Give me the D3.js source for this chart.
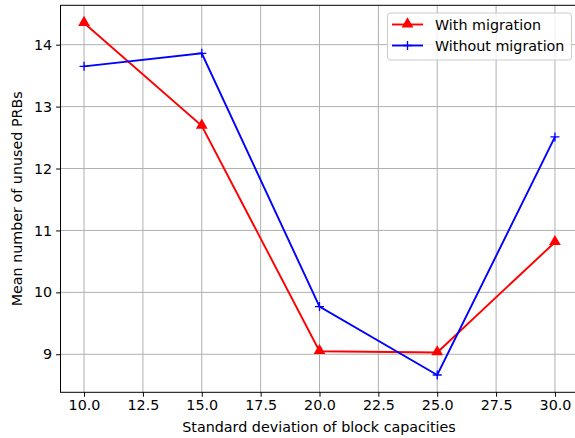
<!DOCTYPE html>
<html><head><meta charset="utf-8">
<script src="https://cdn.jsdelivr.net/npm/d3@7"></script>
<style>body{margin:0;background:#fff}svg{display:block}text{font-family:"DejaVu Sans",sans-serif}</style>
</head><body><svg id="c" width="575" height="438"></svg>
<script>
const xValues = [10, 15, 20, 25, 30];
const withMigration = [14.35, 12.69, 9.05, 9.03, 10.81];
const withoutMigration = [13.65, 13.86, 9.77, 8.665, 12.51];
const xTicks = [10, 12.5, 15, 17.5, 20, 22.5, 25, 27.5, 30];
const yTicks = [9, 10, 11, 12, 13, 14];
const seriesNames = ["With migration", "Without migration"];

const svg = d3.select("#c");
const L = 60.5, R = 578.5, T = 5.3, B = 392.3;
const x = d3.scaleLinear().domain([9, 31]).range([L, R]);
const y = d3.scaleLinear().domain([8.386, 14.636]).range([B, T]);
const fs = 14.3;

// grid
const g = svg.append("g");
g.selectAll(".gx").data(xTicks).enter().append("line")
  .attr("x1", d => x(d)).attr("x2", d => x(d)).attr("y1", T).attr("y2", B)
  .attr("stroke", "#b0b0b0").attr("stroke-width", 1);
g.selectAll(".gy").data(yTicks).enter().append("line")
  .attr("y1", d => y(d)).attr("y2", d => y(d)).attr("x1", L).attr("x2", R)
  .attr("stroke", "#b0b0b0").attr("stroke-width", 1);

// axes
const xAxis = svg.append("g").attr("transform", `translate(0,${B})`)
  .call(d3.axisBottom(x).tickValues(xTicks).tickFormat(d3.format(".1f")).tickSizeOuter(0).tickSize(4.4).tickPadding(3.5));
const yAxis = svg.append("g").attr("transform", `translate(${L},0)`)
  .call(d3.axisLeft(y).tickValues(yTicks).tickFormat(d3.format("d")).tickSizeOuter(0).tickSize(4.4).tickPadding(4));
[xAxis, yAxis].forEach(a => {
  a.select(".domain").remove();
  a.selectAll("text").attr("font-size", fs).attr("font-family", "DejaVu Sans").attr("fill", "#000");
  a.selectAll("line").attr("stroke", "#000").attr("stroke-width", 1);
});
// spines
svg.append("rect").attr("x", L).attr("y", T).attr("width", R - L).attr("height", B - T)
  .attr("fill", "none").attr("stroke", "#000").attr("stroke-width", 1);

// lines
const line = d3.line().x((d, i) => x(xValues[i])).y(d => y(d));
svg.append("path").datum(withMigration).attr("d", line).attr("fill", "none")
  .attr("stroke", "red").attr("stroke-width", 1.9);
svg.append("path").datum(withoutMigration).attr("d", line).attr("fill", "none")
  .attr("stroke", "blue").attr("stroke-width", 1.9);

const tri = d3.symbol().type(d3.symbolTriangle).size(60);
svg.selectAll(".m1").data(withMigration).enter().append("path")
  .attr("d", tri).attr("transform", (d, i) => `translate(${x(xValues[i])},${y(d) - 0.5})`)
  .attr("fill", "red");
const plus = (cx, cy, s) => `M${cx - s},${cy}H${cx + s}M${cx},${cy - s}V${cy + s}`;
svg.selectAll(".m2").data(withoutMigration).enter().append("path")
  .attr("d", (d, i) => plus(x(xValues[i]), y(d), 4.5))
  .attr("stroke", "blue").attr("stroke-width", 1.3).attr("fill", "none");

// labels
svg.append("text").attr("x", 319).attr("y", 432).attr("text-anchor", "middle")
  .attr("font-size", fs).text("Standard deviation of block capacities");
svg.append("text").attr("transform", `translate(22,${(T + B) / 2}) rotate(-90)`).attr("text-anchor", "middle")
  .attr("font-size", fs).text("Mean number of unused PRBs");

// legend
const lg = svg.append("g");
lg.append("rect").attr("x", 387.5).attr("y", 13).attr("width", 184).attr("height", 47).attr("rx", 3)
  .attr("fill", "#fff").attr("fill-opacity", 0.8).attr("stroke", "#ccc").attr("stroke-width", 1);
const ly = [24.5, 45.5];
lg.append("line").attr("x1", 392).attr("x2", 423).attr("y1", ly[0]).attr("y2", ly[0]).attr("stroke", "red").attr("stroke-width", 1.9);
lg.append("path").attr("d", tri).attr("transform", `translate(407.5,${ly[0] - 0.5})`).attr("fill", "red");
lg.append("line").attr("x1", 392).attr("x2", 423).attr("y1", ly[1]).attr("y2", ly[1]).attr("stroke", "blue").attr("stroke-width", 1.9);
lg.append("path").attr("d", plus(407.5, ly[1], 4.5)).attr("stroke", "blue").attr("stroke-width", 1.3);
seriesNames.forEach((n, i) => {
  lg.append("text").attr("x", 435).attr("y", ly[i] + 5).attr("font-size", fs).text(n);
});
</script></body></html>
